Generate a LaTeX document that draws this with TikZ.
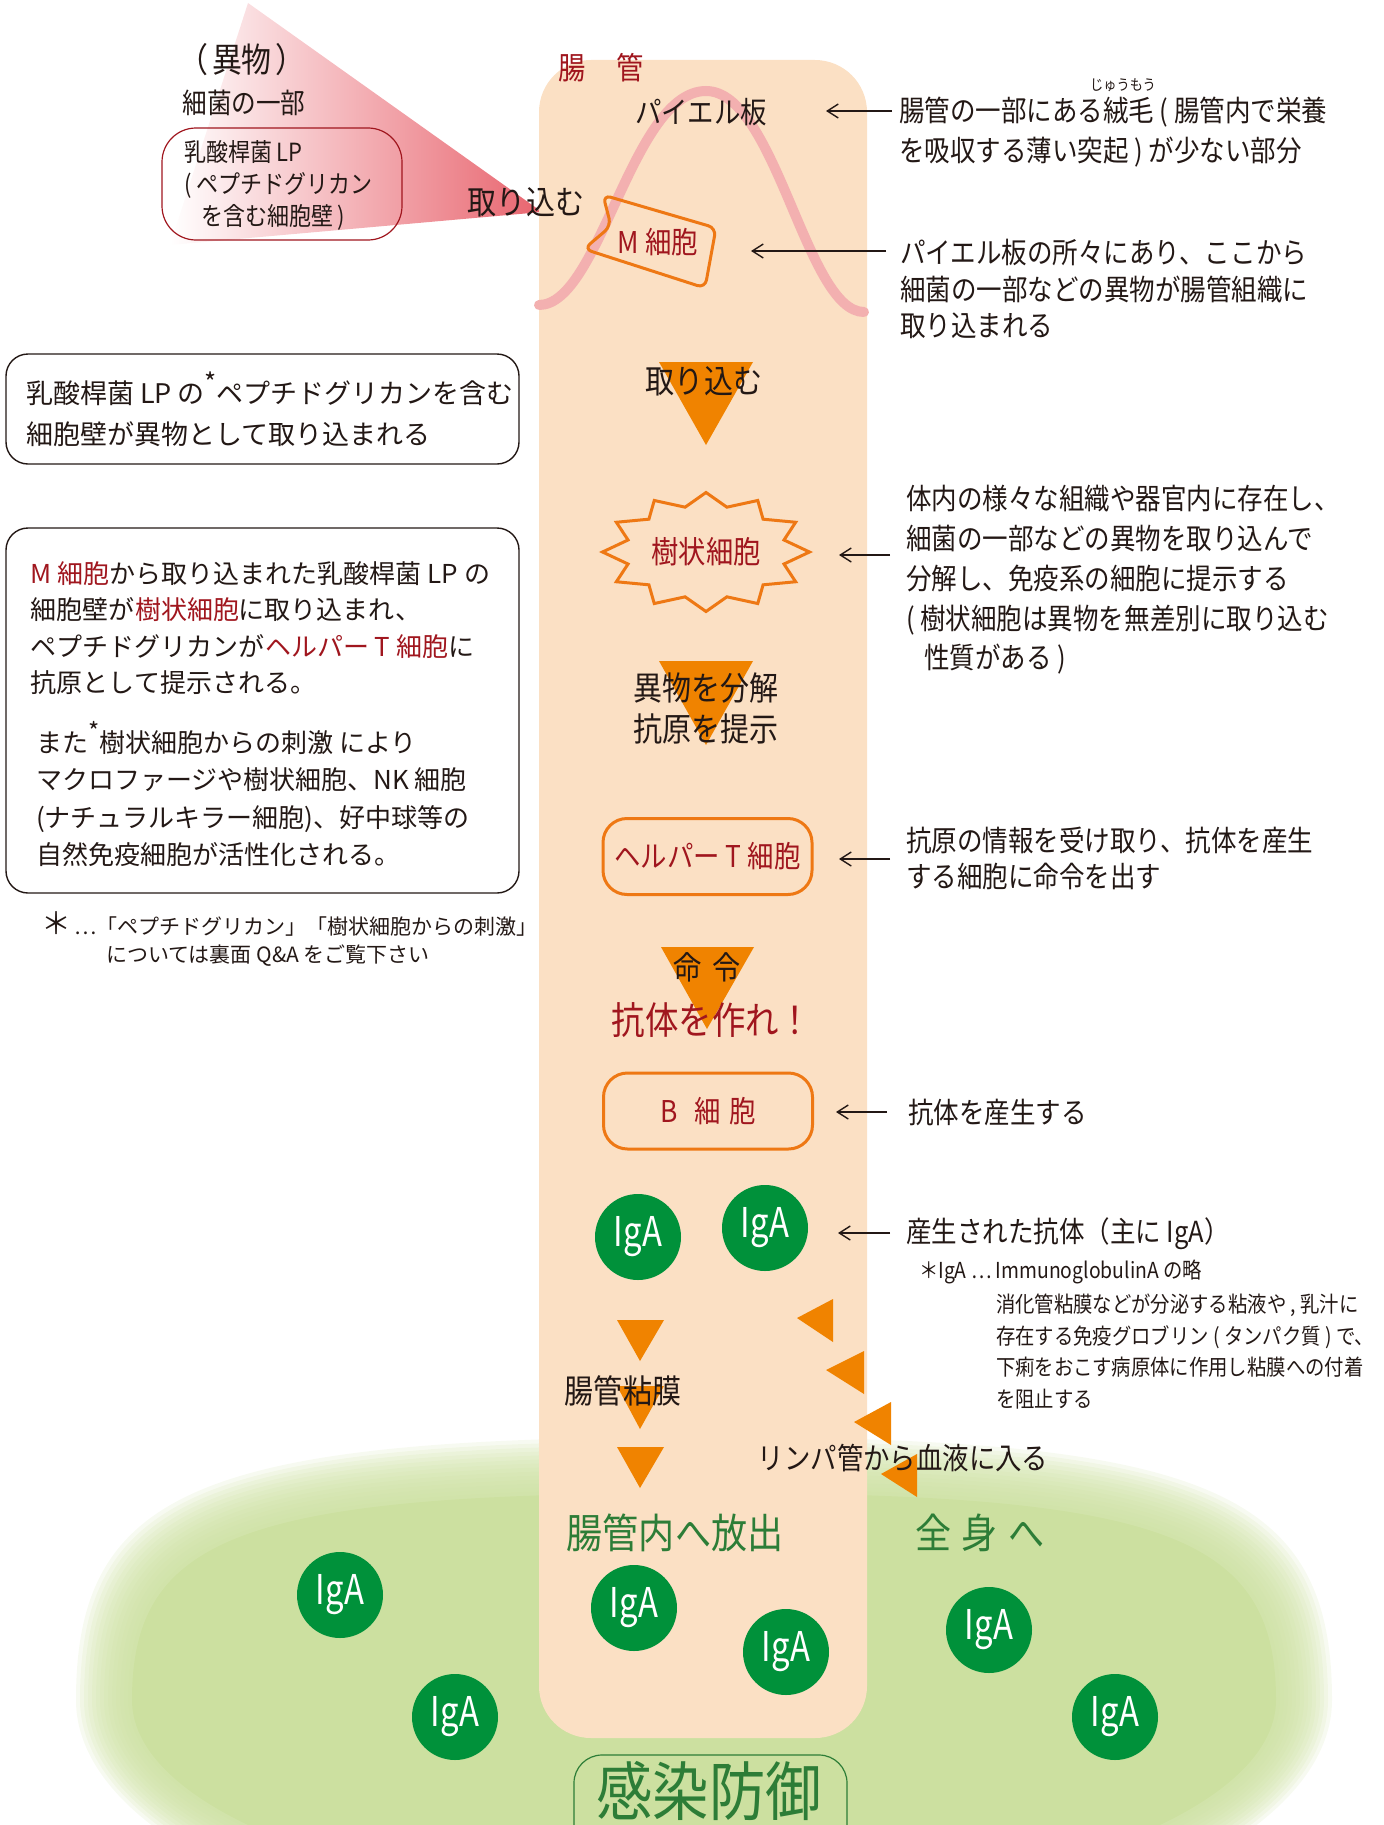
\documentclass[tikz,border=0pt]{standalone}
\usepackage{fontspec}
\setmainfont{Noto Sans CJK JP}
\newfontfamily\jpc[FakeStretch=0.88]{Noto Sans CJK JP}
\newfontfamily\igaf[FakeStretch=0.8]{Noto Sans CJK JP}
\usetikzlibrary{arrows.meta}

\definecolor{tubepeach}{RGB}{251,224,196}
\definecolor{patchpink}{RGB}{243,176,176}
\definecolor{cellorange}{RGB}{238,120,20}
\definecolor{flowor}{RGB}{240,131,0}
\definecolor{deepred}{RGB}{160,22,30}
\definecolor{igagreen}{RGB}{0,145,58}
\definecolor{leafgreen}{RGB}{204,224,160}
\definecolor{textgreen}{RGB}{45,125,55}
\definecolor{ink}{RGB}{35,24,21}
\definecolor{wedgered}{RGB}{232,100,110}
\definecolor{wedgemid}{RGB}{245,188,172}

\newcommand\fs[2]{\fontsize{#1}{#2}\selectfont}
% rounded blob centred on the origin, half-widths #1 and #2:
% boxy upper half, elliptic lower half
\newcommand\blobpath[2]{(0,-#2) .. controls ({-0.8*#1},-#2) and (-#1,{-0.8*#2}) .. (-#1,0)
  .. controls (-#1,{0.552*#2}) and ({-0.552*#1},#2) .. (0,#2)
  .. controls ({0.552*#1},#2) and (#1,{0.552*#2}) .. (#1,0)
  .. controls (#1,{-0.8*#2}) and ({0.8*#1},-#2) .. (0,-#2) -- cycle}

\begin{document}
\begin{tikzpicture}[x=0.5pt,y=-0.5pt,
  every node/.style={inner sep=0pt, outer sep=0pt, text=ink},
  pointer/.style={draw=ink, line width=0.7pt, -{Straight Barb[length=5.5pt,width=7pt]}},
  cellbox/.style={draw=cellorange, line width=1.5pt, rounded corners=12pt, minimum width=104.5pt, minimum height=38pt},
  flowtri/.style={fill=flowor},
  iga/.style={circle, fill=igagreen, minimum size=43pt, text=white, font=\igaf\fs{20.5}{20.5}},
  note/.style={font=\jpc\fs{14.5}{14.5}},
  label/.style={font=\jpc\fs{15}{15}},
  celltext/.style={font=\jpc\fs{15}{15}, text=deepred},
  infobox/.style={draw=ink, line width=0.7pt, rounded corners=11pt}
]
\useasboundingbox (0,0) rectangle (1384,1825);

% green area around the lower body, with a soft edge
\begin{scope}[shift={(704,1700)}]
  \foreach \k in {0,...,14}{
    \pgfmathsetmacro\rx{628-4*\k}
    \pgfmathsetmacro\ry{263-4*\k}
    \fill[leafgreen, fill opacity=0.15] \blobpath{\rx}{\ry};
  }
  \fill[leafgreen] \blobpath{572}{207};
\end{scope}

% foreign matter entering the gut
\shade[left color=white, middle color=wedgemid, right color=wedgered]
  (248,3) -- (542,212) -- (170,245) -- cycle;

% intestine
\fill[tubepeach, rounded corners=26pt] (539,60) rectangle (867,1738);

% bacterium box
\draw[deepred, line width=0.6pt, rounded corners=17pt] (162,128) rectangle (402,240);

% Peyer's patch
\draw[patchpink, line width=5pt, line cap=round]
  (539,305) .. controls (600,305) and (632,91) .. (706,91)
  .. controls (776,91) and (806,312) .. (864,312);

% M cell
\draw[cellorange, line width=1.5pt, rounded corners=4pt]
  (603,195) -- (716,228) -- (705,288) -- (584,249) -- (611,226) -- cycle;

% dendritic cell
\draw[cellorange, line width=1.5pt, line join=miter]
  plot[samples at={0,15,...,345}, variable=\a]
  ({706+103.5*(0.89+0.11*cos(12*\a))*cos(\a)}, {552+59.5*(0.89+0.11*cos(12*\a))*sin(\a)}) -- cycle;

% flow triangles down the intestine
\fill[flowtri] (659,362) -- (753,362) -- (706,445) -- cycle;
\fill[flowtri] (659,661) -- (753,661) -- (706,745) -- cycle;
\fill[flowtri] (661,947) -- (754,947) -- (707,1029) -- cycle;
\fill[flowtri] (617,1320) -- (664,1320) -- (640,1361) -- cycle;
\fill[flowtri] (617,1386) -- (664,1386) -- (640,1429) -- cycle;
\fill[flowtri] (617,1447) -- (664,1447) -- (640,1488) -- cycle;
% flow triangles towards the blood
\fill[flowtri] (833,1299) -- (833,1342) -- (797,1318) -- cycle;
\fill[flowtri] (864,1351) -- (864,1394) -- (826,1370) -- cycle;
\fill[flowtri] (891,1402) -- (891,1445) -- (854,1422) -- cycle;
\fill[flowtri] (917,1454) -- (917,1497) -- (881,1474) -- cycle;

% cells
\node[cellbox] (helper) at (707.5,856.5) {\jpc\fs{15}{15}\color{deepred}ヘルパー T 細胞};
\node[cellbox] (bcell) at (708,1111) {\jpc\fs{15}{15}\color{deepred}B\hspace{0.55em}細\hspace{0.3em}胞};

% antibodies
\node[iga] (igaA) at (638,1237) {IgA};
\node[iga] (igaB) at (765,1228) {IgA};
\node[iga] (igaC) at (340,1595) {IgA};
\node[iga] (igaD) at (634,1608) {IgA};
\node[iga] (igaE) at (786,1652) {IgA};
\node[iga] (igaF) at (989,1630) {IgA};
\node[iga] (igaG) at (455,1717) {IgA};
\node[iga] (igaH) at (1115,1717) {IgA};

% infection defence
\draw[textgreen, line width=0.6pt, rounded corners=14pt] (574,1755) rectangle (847,1870);
\node[font=\jpc\fs{32}{32}, text=textgreen] (kansen) at (709,1791) {感染防御};

% labels on the left of the intestine
\node[font=\jpc\fs{17}{17}] (ibutsu) at (242,60) {（\hspace{0.1em}異物\hspace{0.1em}）};
\node[font=\jpc\fs{14}{14}] (saikin) at (244,103) {細菌の一部};
\node[font=\jpc\fs{12.5}{16}, align=left, anchor=west] (lpwall) at (184,185)
  {乳酸桿菌 LP\\( ペプチドグリカン\\\hspace*{8.5pt}を含む細胞壁 )};
\node[font=\jpc\fs{16.5}{16.5}] (intake) at (526,202) {取り込む};

% labels inside the intestine
\node[font=\jpc\fs{15.5}{15.5}, text=deepred] (gut) at (601,68) {腸\hspace{1em}管};
\node[label] (peyer) at (701,112) {パイエル板};
\node[celltext] (mcell) at (658,242) {M 細胞};
\node[font=\jpc\fs{16.5}{16.5}] (intake2) at (704,381) {取り込む};
\node[font=\jpc\fs{15.5}{15.5}, text=deepred] (dendri) at (706,552) {樹状細胞};
\node[font=\jpc\fs{16.5}{20.5}, align=center] (present) at (706,708) {異物を分解\\抗原を提示};
\node[font=\jpc\fs{16}{16}] (order) at (707,967) {命\hspace{0.35em}令};
\node[font=\jpc\fs{19}{19}, text=deepred] (makeab) at (712,1020) {抗体を作れ！};
\node[font=\jpc\fs{16.5}{16.5}] (mucosa) at (623,1391) {腸管粘膜};
\node[font=\jpc\fs{15}{15}] (lymph) at (903,1458) {リンパ管から血液に入る};
\node[font=\jpc\fs{20.5}{20.5}, text=textgreen] (release) at (675,1533) {腸管内へ放出};
\node[font=\jpc\fs{20.5}{20.5}, text=textgreen] (whole) at (980,1533) {全\hspace{0.25em}身\hspace{0.25em}へ};

% notes on the right
\node[font=\jpc\fs{7.5}{7.5}] (ruby) at (1123,85) {じゅうもう};
\node[note, font=\jpc\fs{14.5}{20}, align=left, anchor=west] (notePeyer) at (899,132)
  {腸管の一部にある絨毛 ( 腸管内で栄養\\を吸収する薄い突起 ) が少ない部分};
\node[note, font=\jpc\fs{14.5}{18.3}, align=left, anchor=west] (noteM) at (900,289)
  {パイエル板の所々にあり、ここから\\細菌の一部などの異物が腸管組織に\\取り込まれる};
\node[note, font=\jpc\fs{14.5}{19.9}, align=left, anchor=west] (noteDend) at (906,580)
  {体内の様々な組織や器官内に存在し、\\細菌の一部などの異物を取り込んで\\分解し、免疫系の細胞に提示する\\( 樹状細胞は異物を無差別に取り込む\\\hspace*{9pt}性質がある )};
\node[note, font=\jpc\fs{14.5}{18}, align=left, anchor=west] (noteHelper) at (906,858)
  {抗原の情報を受け取り、抗体を産生\\する細胞に命令を出す};
\node[note, anchor=west] (noteB) at (908,1112) {抗体を産生する};
\node[note, anchor=west] (noteIga) at (906,1234) {産生された抗体（主に IgA）};
\node[font=\jpc\fs{11}{11}, anchor=west] (igaDef) at (919,1272) {＊IgA … ImmunoglobulinA の略};
\node[font=\jpc\fs{11}{15.8}, align=left, anchor=west] (igaRole) at (996,1351.5)
  {消化管粘膜などが分泌する粘液や , 乳汁に\\存在する免疫グロブリン ( タンパク質 ) で、\\下痢をおこす病原体に作用し粘膜への付着\\を阻止する};

% pointers from the notes
\coordinate (p1s) at (892,111);  \coordinate (p1e) at (826,111);
\coordinate (p2s) at (886,251);  \coordinate (p2e) at (751,251);
\coordinate (p3s) at (890,555);  \coordinate (p3e) at (839,555);
\coordinate (p4s) at (890,859);  \coordinate (p4e) at (839,859);
\coordinate (p5s) at (887,1112); \coordinate (p5e) at (836,1112);
\coordinate (p6s) at (890,1233); \coordinate (p6e) at (838,1233);
\draw[pointer] (p1s) -- (p1e);
\draw[pointer] (p2s) -- (p2e);
\draw[pointer] (p3s) -- (p3e);
\draw[pointer] (p4s) -- (p4e);
\draw[pointer] (p5s) -- (p5e);
\draw[pointer] (p6s) -- (p6e);

% explanation boxes on the left
\draw[infobox] (6,354) rectangle (519,464);
\node[font=\fs{13.5}{20.5}, align=left, anchor=west] (explain1) at (26,409.5)
  {乳酸桿菌 LP の\raisebox{0.4em}{\fs{13}{13}*}ペプチドグリカンを含む\\細胞壁が異物として取り込まれる};
\draw[infobox] (6,528) rectangle (519,893);
\node[font=\fs{13}{18.3}, align=left, anchor=west] (explain2) at (31,628)
  {\textcolor{deepred}{M 細胞}から取り込まれた乳酸桿菌 LP の\\細胞壁が\textcolor{deepred}{樹状細胞}に取り込まれ、\\ペプチドグリカンが\textcolor{deepred}{ヘルパー T 細胞}に\\抗原として提示される。};
\node[font=\fs{13}{18.7}, align=left, anchor=west] (explain3) at (36,794)
  {また\raisebox{0.45em}{\fs{12}{12}*}樹状細胞からの刺激 により\\マクロファージや樹状細胞、NK 細胞\\(ナチュラルキラー細胞)、好中球等の\\自然免疫細胞が活性化される。};
\node[font=\fs{10.5}{10.5}, anchor=west] (foot1) at (41,924) {{\fs{15}{10.5}＊}\,…「ペプチドグリカン」「樹状細胞からの刺激」};
\node[font=\fs{10.5}{10.5}] (foot2) at (268,956) {については裏面 Q\&A をご覧下さい};
\end{tikzpicture}
\end{document}
